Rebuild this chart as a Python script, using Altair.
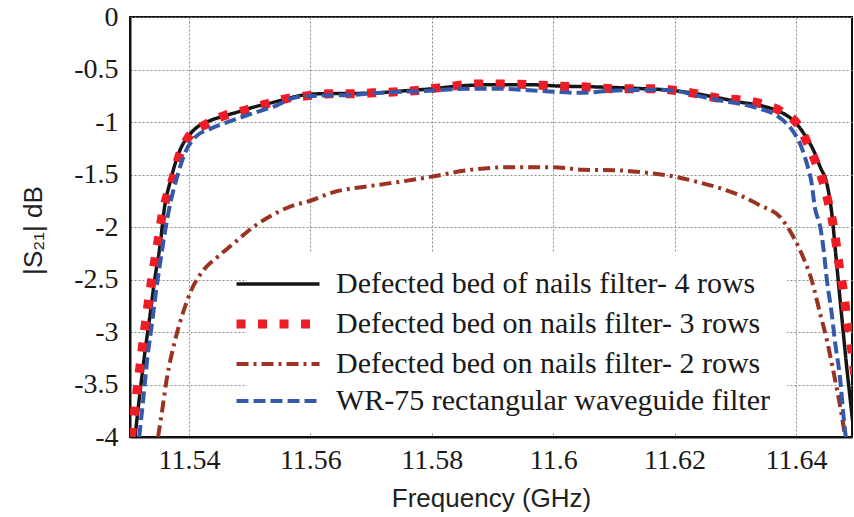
import altair as alt
import pandas as pd

# |S21| (dB) against frequency (GHz) for each filter
freq_4rows = [11.5311, 11.5319, 11.5327, 11.5336, 11.5344, 11.5352, 11.5360, 11.5369, 11.5377,
              11.5385, 11.5393, 11.5404, 11.5418, 11.5435, 11.5451, 11.5479, 11.5506, 11.5533,
              11.5561, 11.5583, 11.5616, 11.5698, 11.5750, 11.5800, 11.5850, 11.5900, 11.5970,
              11.6000, 11.6082, 11.6137, 11.6198, 11.6236, 11.6275, 11.6308, 11.6341, 11.6368,
              11.6385, 11.6401, 11.6415, 11.6429, 11.6440, 11.6451, 11.6459, 11.6467, 11.6475,
              11.6483, 11.6492, 11.6496]
s21_4rows = [-4.00, -3.59, -3.21, -2.83, -2.48, -2.19, -1.80, -1.57, -1.40,
             -1.27, -1.18, -1.10, -1.03, -0.986, -0.954, -0.907, -0.859, -0.821,
             -0.779, -0.748, -0.731, -0.726, -0.705, -0.684, -0.655, -0.645, -0.646,
             -0.655, -0.668, -0.680, -0.700, -0.731, -0.773, -0.811, -0.843, -0.890,
             -0.938, -1.017, -1.129, -1.271, -1.430, -1.59, -1.87, -2.35, -2.83,
             -3.30, -3.78, -4.00]

freq_3rows = [11.5305, 11.5313, 11.5322, 11.5331, 11.5340, 11.5349, 11.5357, 11.5363, 11.5374,
              11.5384, 11.5399, 11.5429, 11.5459, 11.5495, 11.5528, 11.5564, 11.5599, 11.5633,
              11.5671, 11.5703, 11.5775, 11.5811, 11.5882, 11.5918, 11.5954, 11.5989, 11.6025,
              11.6061, 11.6096, 11.6132, 11.6168, 11.6203, 11.6236, 11.6272, 11.6308, 11.6343,
              11.6376, 11.6404, 11.6420, 11.6434, 11.6446, 11.6453, 11.6461, 11.6467, 11.6472,
              11.6478, 11.6483, 11.6489, 11.6494, 11.6500, 11.6505]
s21_3rows = [-4.00, -3.62, -3.20, -2.80, -2.45, -2.13, -1.85, -1.716, -1.526,
             -1.319, -1.145, -1.017, -0.938, -0.884, -0.827, -0.773, -0.748, -0.731,
             -0.731, -0.722, -0.700, -0.675, -0.637, -0.637, -0.643, -0.652, -0.662,
             -0.668, -0.684, -0.684, -0.684, -0.700, -0.731, -0.773, -0.789, -0.827,
             -0.900, -1.033, -1.214, -1.405, -1.60, -1.76, -1.97, -2.19, -2.40,
             -2.60, -2.83, -3.05, -3.27, -3.60, -4.00]

freq_2rows = [11.5349, 11.5355, 11.5363, 11.5377, 11.5391, 11.5404, 11.5424, 11.5446, 11.5473,
              11.5506, 11.5536, 11.5569, 11.5600, 11.5637, 11.5698, 11.5747, 11.5800, 11.5858,
              11.5929, 11.6000, 11.6050, 11.6105, 11.6148, 11.6200, 11.6237, 11.6275, 11.6308,
              11.6341, 11.6374, 11.6396, 11.6412, 11.6426, 11.6440, 11.6451, 11.6459, 11.6467,
              11.6475, 11.6481]
s21_2rows = [-4.00, -3.78, -3.46, -3.08, -2.80, -2.60, -2.41, -2.29, -2.16,
             -2.00, -1.89, -1.80, -1.75, -1.67, -1.61, -1.57, -1.52, -1.46,
             -1.43, -1.43, -1.455, -1.46, -1.48, -1.52, -1.57, -1.63, -1.70,
             -1.795, -1.906, -2.097, -2.29, -2.51, -2.83, -3.08, -3.30, -3.53,
             -3.78, -4.00]

freq_wr75 = [11.5318, 11.5325, 11.5331, 11.5339, 11.5346, 11.5353, 11.5360, 11.5369, 11.5380,
             11.5393, 11.5410, 11.5435, 11.5468, 11.5506, 11.5544, 11.5577, 11.5616, 11.5671,
             11.5692, 11.5802, 11.5857, 11.5912, 11.5967, 11.6044, 11.6104, 11.6159, 11.6203,
             11.6236, 11.6275, 11.6308, 11.6341, 11.6368, 11.6385, 11.6398, 11.6409, 11.6418,
             11.6426, 11.6431, 11.6440, 11.6445, 11.6451, 11.6459, 11.6464, 11.6473, 11.6478,
             11.6482]
s21_wr75 = [-4.00, -3.62, -3.27, -2.92, -2.60, -2.32, -2.06, -1.78, -1.53,
            -1.30, -1.145, -1.065, -0.992, -0.916, -0.843, -0.764, -0.748, -0.741,
            -0.731, -0.700, -0.684, -0.684, -0.700, -0.722, -0.700, -0.694, -0.706,
            -0.748, -0.795, -0.827, -0.875, -0.938, -1.017, -1.113, -1.240, -1.398,
            -1.59, -1.81, -2.00, -2.19, -2.51, -2.83, -3.08, -3.46, -3.78,
            -4.00]

series_names = [
    "Defected bed of nails filter- 4 rows",
    "Defected bed on nails filter- 3 rows",
    "Defected bed on nails filter- 2 rows",
    "WR-75 rectangular waveguide filter",
]
series_freqs = [freq_4rows, freq_3rows, freq_2rows, freq_wr75]
series_s21 = [s21_4rows, s21_3rows, s21_2rows, s21_wr75]

x_ticks = [11.54, 11.56, 11.58, 11.6, 11.62, 11.64]
y_ticks = [0, -0.5, -1, -1.5, -2, -2.5, -3, -3.5, -4]

records = []
for name, fs, vs in zip(series_names, series_freqs, series_s21):
    for f, v in zip(fs, vs):
        records.append({"series": name, "freq": f, "s21": v})
df = pd.DataFrame(records)

line_colors = ["#151515", "#ee1c25", "#9a3322", "#3558ab"]
line_dashes = [[1, 0], [9, 12.5], [12, 5, 3, 5], [12, 5]]
line_widths = [3.5, 9, 4, 4]

serif = "Liberation Serif"
sans = "Liberation Sans"

x_enc = alt.X(
    "freq:Q",
    scale=alt.Scale(domain=[11.53028, 11.64923], nice=False, zero=False),
    axis=alt.Axis(
        values=x_ticks, format="~g", title="Frequency (GHz)",
        titleFont=sans, titleFontSize=26, titleFontWeight="normal", titleColor="#222",
        titleY=61, titleBaseline="middle",
        labelFont=serif, labelFontSize=28, labelColor="#1a1a1a", labelPadding=9,
        ticks=False, tickSize=0, domainColor="#111", domainWidth=2,
        grid=True, gridColor="#8a8a8a", gridDash=[2, 2], gridWidth=1,
    ),
)
y_enc = alt.Y(
    "s21:Q",
    scale=alt.Scale(domain=[-4, 0], nice=False, zero=False),
    axis=alt.Axis(
        values=y_ticks, title="|S₂₁| dB",
        labelExpr="datum.value == 0 ? '0' : '-' + format(-datum.value, '~g')",
        titleFont=sans, titleFontSize=26, titleFontWeight="normal", titleColor="#222",
        titleX=-97, titleY=213, titleAngle=-90, titleAlign="center", titleBaseline="middle",
        labelFont=serif, labelFontSize=28, labelColor="#1a1a1a", labelPadding=12,
        ticks=False, tickSize=0, domainColor="#111", domainWidth=2,
        grid=True, gridColor="#8a8a8a", gridDash=[2, 2], gridWidth=1,
    ),
)

legend = alt.Legend(
    orient="none", legendX=117, legendY=236, title=None,
    symbolType="M-4,0H4", symbolSize=430, labelFont=serif, labelFontSize=30,
    labelColor="#1a1a1a", labelOffset=43, labelLimit=0, rowPadding=7,
    fillColor="white", padding=16, strokeColor="white",
)

color_enc = alt.Color("series:N", scale=alt.Scale(domain=series_names, range=line_colors), legend=legend)
dash_enc = alt.StrokeDash("series:N", scale=alt.Scale(domain=series_names, range=line_dashes), legend=legend)
width_enc = alt.StrokeWidth(
    "series:N",
    scale=alt.Scale(type="ordinal", domain=series_names, range=line_widths),
    legend=legend,
)

layers = []
for name in series_names:
    layers.append(
        alt.Chart(df)
        .transform_filter(alt.datum.series == name)
        .mark_line(clip=True, interpolate="monotone", strokeCap="butt")
        .encode(x=x_enc, y=y_enc, color=color_enc, strokeDash=dash_enc, strokeWidth=width_enc)
    )

chart = (
    alt.layer(*layers)
    .properties(
        width=722, height=420,
        autosize=alt.AutoSizeParams(type="none"),
        padding={"left": 130, "top": 17, "right": 2, "bottom": 80},
        background="white",
    )
    .configure_view(stroke="#111", strokeWidth=2)
)

chart.save("out.html", embed_options={"renderer": "svg", "actions": False})
